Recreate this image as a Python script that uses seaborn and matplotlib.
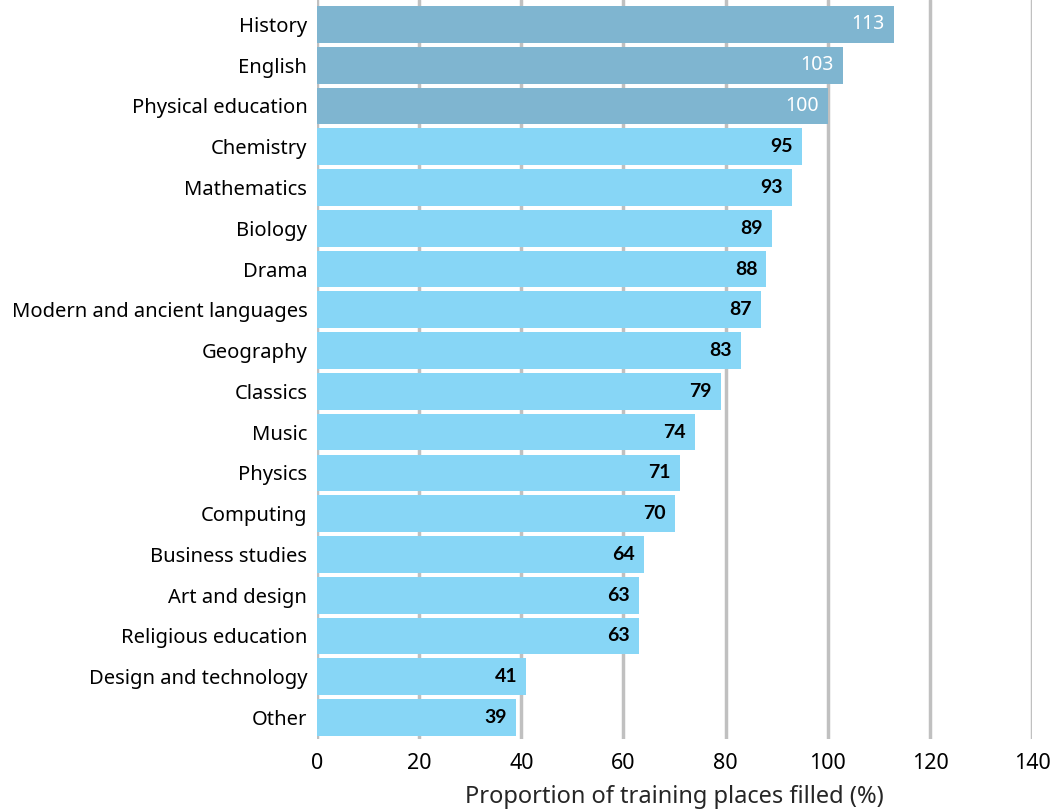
import matplotlib
matplotlib.use("Agg")
import matplotlib.pyplot as plt
import seaborn as sns
import pandas as pd

subjects = ["History", "English", "Physical education", "Chemistry", "Mathematics",
            "Biology", "Drama", "Modern and ancient languages", "Geography", "Classics",
            "Music", "Physics", "Computing", "Business studies", "Art and design",
            "Religious education", "Design and technology", "Other"]
filled = [113, 103, 100, 95, 93, 89, 88, 87, 83, 79, 74, 71, 70, 64, 63, 63, 41, 39]
x_ticks = [0, 20, 40, 60, 80, 100, 120, 140]

dark = "#7fb5d0"
light = "#87d6f6"

sns.set_style("white")
plt.rcParams['font.family'] = ['Noto Sans', 'DejaVu Sans']

df = pd.DataFrame({"subject": subjects, "filled": filled})
df["over"] = df["filled"] >= 100

fig = plt.figure(figsize=(10.51, 8.10), dpi=100)
ax = fig.add_axes([0.3016, 0.088, 0.6804, 0.912])

sns.barplot(data=df, y="subject", x="filled", hue="over", orient="h",
            palette={True: dark, False: light}, width=0.9, legend=False,
            saturation=1, linewidth=0, ax=ax, zorder=3)

# value labels: white on the dark (>=100) bars, bold black on the rest
for i, v in enumerate(filled):
    over = v >= 100
    if over:
        ax.text(v - 1.8, i, str(v), ha="right", va="center", fontsize=14,
                color="white", zorder=4)
    else:
        ax.text(v - 1.8, i, str(v), ha="right", va="center", fontsize=14,
                color="black", family=["Lato", "DejaVu Sans"],
                fontweight="bold", zorder=4)

ax.set_xlim(0, 140)
ax.set_ylim(17.52, -0.6)
ax.set_xticks(x_ticks)
ax.xaxis.grid(True, color="#c0c0c0", linewidth=2.5, zorder=0)
ax.set_axisbelow(True)
for s in ax.spines.values():
    s.set_visible(False)
ax.tick_params(axis="both", length=0, labelsize=14.5, colors="black")
ax.tick_params(axis="x", labelsize=15.5)
ax.tick_params(axis="y", pad=7)
ax.tick_params(axis="x", pad=10)
ax.set_ylabel("")
ax.set_xlabel("Proportion of training places filled (%)", fontsize=17, labelpad=8)

fig.savefig("out.png", dpi=100)
